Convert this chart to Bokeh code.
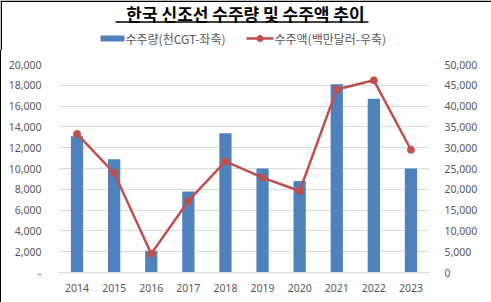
from bokeh.plotting import figure
from bokeh.models import ColumnDataSource, FactorRange, Range1d, LinearAxis, FixedTicker
from bokeh.layouts import column
from bokeh.core.properties import value as pval
from bokeh.embed import file_html
from bokeh.resources import INLINE

years = ["2014", "2015", "2016", "2017", "2018", "2019", "2020", "2021", "2022", "2023"]
volume = [13100, 10900, 2100, 7800, 13400, 10000, 8800, 18100, 16700, 10000]
value = [33300, 23900, 4500, 17200, 26700, 22800, 19600, 44000, 46200, 29500]

left_ticks = list(range(0, 20001, 2000))
left_labels = ["-"] + [f"{t:,}" for t in left_ticks[1:]]
right_ticks = list(range(0, 50001, 5000))
right_labels = [f"{t:,}" for t in right_ticks]

title_text = "한국 신조선 수주량 및 수주액 추이"
label_volume = "수주량(천CGT-좌축)"
label_value = "수주액(백만달러-우축)"

BAR_C = "#4F81BD"
LINE_C = "#C0504D"
GRAY = "#595959"
AX_FONT = "Noto Sans"
KR_FONT = "Noto Sans CJK KR"

W, H = 491, 302
TOP_H = 50

# ---------- header: title + legend ----------
hd = figure(width=W, height=TOP_H, x_range=Range1d(0, W), y_range=Range1d(TOP_H, 0),
            output_backend="svg", toolbar_location=None, x_axis_type=None, y_axis_type=None,
            min_border=0, min_border_left=0, min_border_right=0, min_border_top=0,
            min_border_bottom=0)
hd.frame_align = False
hd.outline_line_color = None
hd.xgrid.grid_line_color = None
hd.ygrid.grid_line_color = None
hd.border_fill_color = "white"
hd.background_fill_color = "white"

# frame border (top / left)
hd.segment(x0=[0, 0.75], y0=[0.75, 0], x1=[W, 0.75], y1=[0.75, TOP_H],
           line_color="black", line_width=1.5)

hd.text(x=[245], y=[13], text=[title_text], text_align="center", text_baseline="middle",
        text_font=pval(KR_FONT), text_font_style="bold", text_font_size="17px",
        text_color="black")
hd.segment(x0=[115], y0=[21.5], x1=[368], y1=[21.5], line_color="black", line_width=1.5)

# legend entries
hd.quad(left=[100], right=[124], top=[35], bottom=[41], fill_color=BAR_C, line_color=None)
hd.text(x=[125], y=[38], text=[label_volume], text_align="left", text_baseline="middle",
        text_font=pval(KR_FONT), text_font_size="12px", text_color=GRAY)
hd.segment(x0=[246], y0=[38], x1=[273], y1=[38], line_color=LINE_C, line_width=2.5)
hd.scatter(x=[259.5], y=[38], size=6, fill_color=LINE_C, line_color=LINE_C)
hd.text(x=[274], y=[38], text=[label_value], text_align="left", text_baseline="middle",
        text_font=pval(KR_FONT), text_font_size="12px", text_color=GRAY)

# ---------- main chart ----------
src = ColumnDataSource(dict(year=years, volume=volume, value=value))

p = figure(width=W, height=H - TOP_H, x_range=FactorRange(*years), y_range=Range1d(0, 20000),
           output_backend="svg", toolbar_location=None,
           min_border_left=57, min_border_right=63, min_border_top=14, min_border_bottom=30)
p.frame_align = False
p.extra_y_ranges = {"right": Range1d(0, 50000)}
p.outline_line_color = None
p.background_fill_color = "white"
p.border_fill_color = "white"

bars = p.vbar(x="year", top="volume", width=0.33, source=src,
              fill_color=BAR_C, line_color=None)
line = p.line(x="year", y="value", source=src, y_range_name="right",
              line_color=LINE_C, line_width=2.5)
pts = p.scatter(x="year", y="value", source=src, y_range_name="right",
                size=7, fill_color=LINE_C, line_color=LINE_C)

p.xgrid.grid_line_color = None
p.ygrid.grid_line_color = "#D9D9D9"
p.ygrid.ticker = FixedTicker(ticks=left_ticks)

ly = p.yaxis[0]
ly.ticker = FixedTicker(ticks=left_ticks)
ly.major_label_overrides = {t: l for t, l in zip(left_ticks, left_labels)}

ry = LinearAxis(y_range_name="right", ticker=FixedTicker(ticks=right_ticks))
ry.major_label_overrides = {t: l for t, l in zip(right_ticks, right_labels)}
p.add_layout(ry, "right")

for ax in [ly, ry]:
    ax.axis_line_color = None
    ax.major_tick_line_color = None
    ax.minor_tick_line_color = None
    ax.major_label_text_font = AX_FONT
    ax.major_label_text_font_size = "10.5px"
    ax.major_label_text_color = GRAY
ly.major_label_standoff = 11
ry.major_label_standoff = 9

xa = p.xaxis[0]
xa.axis_line_color = "#D9D9D9"
xa.major_tick_line_color = None
xa.minor_tick_line_color = None
xa.major_label_text_font = AX_FONT
xa.major_label_text_font_size = "10.5px"
xa.major_label_text_color = GRAY
xa.major_label_standoff = 5

p.styles = {"border-left": "1.5px solid black", "box-sizing": "border-box"}

layout = column(hd, p, spacing=0)

open("out.html", "w").write(file_html(layout, INLINE))
